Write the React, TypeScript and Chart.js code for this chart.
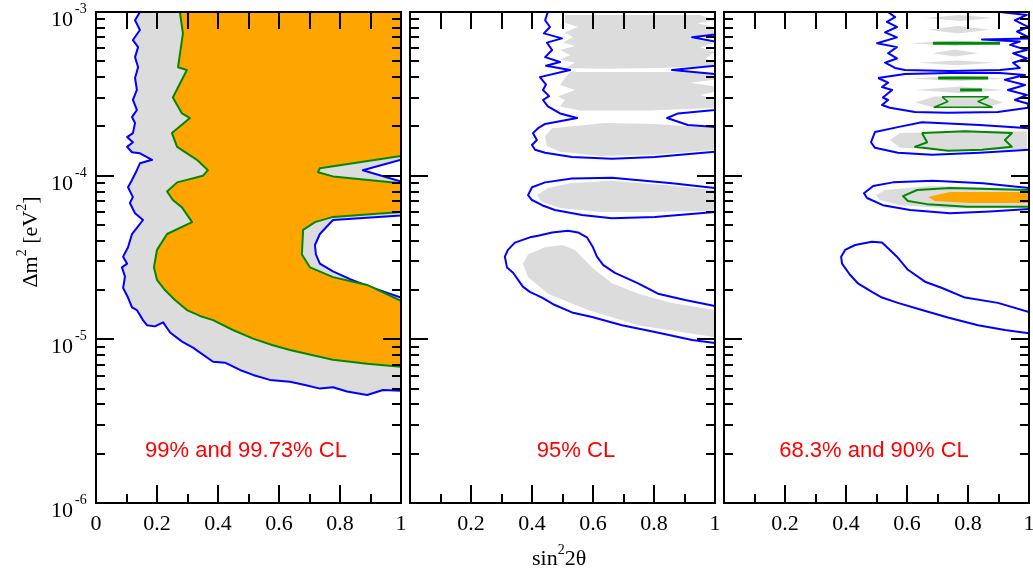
import { useEffect, useRef } from "react";
import { Chart, registerables } from "chart.js";

Chart.register(...registerables);

type P = [number, number];

const W = 1033;
const H = 573;

// ---- axes ----
const X_MAJOR = [0, 0.2, 0.4, 0.6, 0.8, 1];
const X_MINOR = [0.1, 0.3, 0.5, 0.7, 0.9];
const X_LABELS_FIRST = ["0", "0.2", "0.4", "0.6", "0.8", "1"];
const X_LABELS_REST = ["", "0.2", "0.4", "0.6", "0.8", "1"];
const Y_DECADES = [1e-6, 1e-5, 1e-4, 1e-3];
const Y_DECADE_EXP = ["-6", "-5", "-4", "-3"];
const Y_MINOR_MULT = [2, 3, 4, 5, 6, 7, 8, 9];
const NOTES = ["99% and 99.73% CL", "95% CL", "68.3% and 90% CL"];
const NOTE_X = [246, 576, 874];

// ---- panel 1: 99% (orange) and 99.73% (gray) ----
const P1_GRAY: P[] = [
  [0.144, 1e-3], [1, 1e-3], [1, 1.25e-4], [0.875, 1.08e-4], [1, 9.2e-5], [1, 5.7e-5],
  [0.777, 5.36e-5], [0.734, 4.4e-5], [0.718, 3.77e-5], [0.721, 3.3e-5], [0.734, 2.9e-5],
  [0.777, 2.6e-5], [0.833, 2.33e-5], [0.908, 2.06e-5], [1, 1.8e-5],
  [1, 4.85e-6], [0.941, 4.9e-6], [0.889, 4.57e-6], [0.823, 4.8e-6], [0.777, 5.1e-6],
  [0.734, 5.0e-6], [0.685, 5.26e-6], [0.636, 5.5e-6], [0.57, 5.65e-6], [0.515, 6.06e-6],
  [0.472, 6.5e-6], [0.423, 7.2e-6], [0.384, 7.3e-6], [0.341, 8.3e-6], [0.318, 8.9e-6],
  [0.285, 9.6e-6], [0.266, 1.02e-5], [0.243, 1.1e-5], [0.22, 1.27e-5], [0.193, 1.2e-5],
  [0.167, 1.22e-5], [0.154, 1.31e-5], [0.134, 1.51e-5], [0.118, 1.57e-5], [0.105, 1.8e-5],
  [0.089, 2.06e-5], [0.095, 2.42e-5], [0.085, 2.75e-5], [0.102, 2.9e-5], [0.089, 3.2e-5],
  [0.105, 3.65e-5], [0.118, 4.4e-5], [0.134, 4.8e-5], [0.154, 5.36e-5], [0.128, 5.9e-5],
  [0.111, 6.8e-5], [0.121, 7.4e-5], [0.105, 8.5e-5], [0.118, 9.4e-5], [0.134, 1.08e-4],
  [0.144, 1.19e-4], [0.184, 1.25e-4], [0.144, 1.37e-4], [0.118, 1.39e-4], [0.102, 1.5e-4],
  [0.121, 1.6e-4], [0.102, 1.72e-4], [0.121, 1.82e-4], [0.128, 2.1e-4], [0.118, 2.28e-4],
  [0.134, 2.52e-4], [0.121, 2.9e-4], [0.134, 3.34e-4], [0.128, 3.95e-4], [0.138, 4.6e-4],
  [0.128, 5.3e-4], [0.138, 6.1e-4], [0.121, 6.74e-4], [0.144, 7.76e-4], [0.128, 8.9e-4],
];
const P1_ORANGE: P[] = [
  [0.275, 1e-3], [1, 1e-3], [1, 1.32e-4], [0.734, 1.11e-4], [0.728, 1.05e-4], [0.777, 9.9e-5],
  [1, 9.0e-5], [1, 6.0e-5], [0.777, 5.6e-5], [0.718, 5.2e-5], [0.679, 4.66e-5], [0.675, 3.3e-5],
  [0.702, 2.75e-5], [0.777, 2.4e-5], [0.889, 2.15e-5], [1, 1.72e-5], [1, 6.8e-6],
  [0.889, 7.1e-6], [0.777, 7.5e-6], [0.711, 8.0e-6], [0.636, 8.6e-6], [0.58, 9.2e-6],
  [0.515, 1.01e-5], [0.449, 1.14e-5], [0.384, 1.31e-5], [0.341, 1.39e-5], [0.298, 1.51e-5],
  [0.259, 1.74e-5], [0.226, 2.0e-5], [0.2, 2.31e-5], [0.19, 2.75e-5], [0.2, 3.52e-5],
  [0.233, 4.4e-5], [0.315, 5.2e-5], [0.282, 6.4e-5], [0.252, 7.1e-5], [0.233, 8.0e-5],
  [0.266, 9.1e-5], [0.351, 1.0e-4], [0.367, 1.08e-4], [0.331, 1.25e-4], [0.266, 1.5e-4],
  [0.249, 1.82e-4], [0.308, 2.25e-4], [0.282, 2.4e-4], [0.252, 3.0e-4], [0.298, 4.42e-4],
  [0.269, 4.6e-4], [0.285, 7.4e-4],
];

// ---- panel 2: 95% ----
const P2_BANANA_LINE: P[] = [
  [1, 1.6e-5], [0.902, 1.74e-5], [0.813, 1.9e-5], [0.748, 2.2e-5], [0.672, 2.55e-5],
  [0.633, 2.85e-5], [0.613, 3.2e-5], [0.6, 3.65e-5], [0.58, 4.2e-5], [0.551, 4.5e-5],
  [0.518, 4.6e-5], [0.466, 4.5e-5], [0.42, 4.3e-5], [0.393, 4.2e-5], [0.344, 3.9e-5],
  [0.321, 3.52e-5], [0.311, 3.2e-5], [0.318, 2.75e-5], [0.338, 2.55e-5], [0.37, 2.1e-5],
  [0.393, 1.95e-5], [0.433, 1.8e-5], [0.475, 1.62e-5], [0.531, 1.46e-5], [0.597, 1.37e-5],
  [0.695, 1.22e-5], [0.803, 1.11e-5], [0.925, 9.9e-6], [1, 9.5e-6],
];
const P2_BANANA_GRAY: P[] = [
  [1, 1.51e-5], [0.859, 1.67e-5], [0.748, 1.9e-5], [0.662, 2.2e-5], [0.597, 2.75e-5],
  [0.541, 3.52e-5], [0.498, 3.77e-5], [0.443, 3.65e-5], [0.387, 3.3e-5], [0.37, 2.9e-5],
  [0.387, 2.4e-5], [0.452, 1.9e-5], [0.584, 1.51e-5], [0.748, 1.22e-5], [1, 1.03e-5],
];
const P2_MID_LINE: P[] = [
  [1, 8.4e-5], [0.859, 9.0e-5], [0.662, 9.7e-5], [0.531, 9.6e-5], [0.443, 9.1e-5],
  [0.4, 8.5e-5], [0.387, 7.6e-5], [0.4, 7.1e-5], [0.433, 6.6e-5], [0.475, 6.17e-5],
  [0.564, 5.75e-5], [0.662, 5.5e-5], [0.803, 5.6e-5], [1, 6.0e-5],
];
const P2_MID_GRAY: P[] = [
  [1, 8.17e-5], [0.836, 8.77e-5], [0.656, 9.3e-5], [0.525, 9.0e-5], [0.452, 8.4e-5],
  [0.416, 7.6e-5], [0.433, 6.9e-5], [0.492, 6.35e-5], [0.623, 6.0e-5], [0.787, 6.0e-5],
  [1, 6.1e-5],
];
const P2_UPPER_LINE: P[] = [
  [0.452, 1e-3], [0.443, 8.9e-4], [0.459, 8.1e-4], [0.439, 7.4e-4], [0.498, 6.9e-4],
  [0.449, 6.5e-4], [0.466, 5.86e-4], [0.443, 5.3e-4], [0.492, 4.95e-4], [0.446, 4.7e-4],
  [0.525, 4.42e-4], [0.426, 4.0e-4], [0.446, 3.6e-4], [0.436, 3.34e-4], [0.456, 3.06e-4],
  [0.436, 2.9e-4], [0.452, 2.65e-4], [0.492, 2.4e-4], [0.548, 2.25e-4], [0.443, 2.07e-4],
  [0.42, 1.95e-4], [0.403, 1.82e-4], [0.416, 1.65e-4], [0.4, 1.54e-4], [0.41, 1.44e-4],
  [0.443, 1.38e-4], [0.531, 1.3e-4], [0.662, 1.27e-4], [0.803, 1.3e-4], [1, 1.4e-4],
  [1, 1.98e-4], [0.911, 2.04e-4], [0.843, 2.25e-4], [0.879, 2.4e-4], [1, 2.52e-4],
  [1, 4.18e-4], [0.859, 4.42e-4], [1, 4.7e-4], [1, 6.6e-4], [0.925, 7.0e-4], [1, 7.3e-4],
  [1, 1e-3],
];
const P2_C_GRAY: P[] = [
  [1, 1.95e-4], [0.803, 2.07e-4], [0.639, 2.1e-4], [0.466, 1.95e-4], [0.443, 1.75e-4],
  [0.449, 1.52e-4], [0.492, 1.4e-4], [0.623, 1.32e-4], [0.803, 1.34e-4], [1, 1.44e-4],
];
const P2_D_GRAY: P[] = [
  [0.525, 4.3e-4], [0.885, 4.3e-4], [1, 4.18e-4], [1, 3.85e-4], [0.918, 3.7e-4], [1, 3.5e-4],
  [1, 3.26e-4], [0.951, 3.11e-4], [1, 2.95e-4], [1, 2.6e-4], [0.787, 2.5e-4], [0.557, 2.5e-4],
  [0.492, 2.65e-4], [0.508, 2.9e-4], [0.485, 3.05e-4], [0.541, 3.34e-4], [0.492, 3.58e-4],
  [0.508, 3.95e-4],
];
const P2_E_GRAY: P[] = [
  [0.508, 9.6e-4], [0.951, 9.6e-4], [1, 8.9e-4], [0.941, 8.55e-4], [1, 8.1e-4], [1, 7.2e-4],
  [0.918, 6.9e-4], [1, 6.5e-4], [0.951, 6.1e-4], [1, 5.7e-4], [0.97, 5.2e-4], [1, 4.95e-4],
  [1, 4.7e-4], [0.82, 4.55e-4], [0.623, 4.5e-4], [0.508, 4.55e-4], [0.541, 4.9e-4],
  [0.492, 5.1e-4], [0.525, 5.46e-4], [0.492, 5.86e-4], [0.541, 6.2e-4], [0.502, 6.5e-4],
  [0.534, 7.0e-4], [0.508, 7.5e-4], [0.551, 8.1e-4], [0.508, 8.6e-4],
];

// ---- panel 3: 68.3% and 90% ----
const P3_BANANA_LINE: P[] = [
  [1, 1.47e-5], [0.898, 1.67e-5], [0.79, 1.8e-5], [0.715, 2.06e-5], [0.659, 2.25e-5],
  [0.603, 2.66e-5], [0.567, 3.2e-5], [0.538, 3.6e-5], [0.518, 3.9e-5], [0.485, 3.95e-5],
  [0.43, 3.77e-5], [0.397, 3.52e-5], [0.384, 3.2e-5], [0.387, 2.9e-5], [0.413, 2.48e-5],
  [0.439, 2.2e-5], [0.485, 1.95e-5], [0.518, 1.8e-5], [0.57, 1.67e-5], [0.649, 1.51e-5],
  [0.734, 1.36e-5], [0.833, 1.22e-5], [0.921, 1.14e-5], [1, 1.09e-5],
];
const P3_B_LINE: P[] = [
  [1, 8.4e-5], [0.849, 9.0e-5], [0.685, 9.3e-5], [0.554, 9.1e-5], [0.489, 8.65e-5],
  [0.459, 7.8e-5], [0.469, 7.3e-5], [0.521, 6.6e-5], [0.61, 6.17e-5], [0.741, 5.9e-5],
  [0.872, 6.05e-5], [1, 6.25e-5],
];
const P3_B_GRAY: P[] = [
  [1, 8.17e-5], [0.849, 8.5e-5], [0.675, 8.65e-5], [0.528, 8.17e-5], [0.498, 7.6e-5],
  [0.511, 7.1e-5], [0.577, 6.6e-5], [0.741, 6.3e-5], [0.905, 6.35e-5], [1, 6.5e-5],
];
const P3_B_GREEN: P[] = [
  [1, 8.17e-5], [0.741, 8.4e-5], [0.633, 8.17e-5], [0.587, 7.5e-5], [0.603, 7.0e-5],
  [0.666, 6.7e-5], [0.797, 6.45e-5], [0.905, 6.45e-5], [1, 6.45e-5],
];
const P3_B_ORANGE: P[] = [
  [1, 7.95e-5], [0.741, 7.95e-5], [0.669, 7.4e-5], [0.692, 7.0e-5], [0.807, 6.8e-5], [1, 6.8e-5],
];
const P3_C_LINE: P[] = [
  [1, 1.95e-4], [0.839, 2.04e-4], [0.649, 2.12e-4], [0.57, 1.98e-4], [0.495, 1.85e-4],
  [0.482, 1.6e-4], [0.495, 1.48e-4], [0.57, 1.38e-4], [0.682, 1.34e-4], [0.839, 1.38e-4],
  [1, 1.44e-4],
];
const P3_C_GRAY: P[] = [
  [0.993, 1.87e-4], [0.839, 1.87e-4], [0.577, 1.82e-4], [0.544, 1.65e-4], [0.577, 1.48e-4],
  [0.774, 1.42e-4], [0.993, 1.45e-4],
];
const P3_C_GREEN: P[] = [
  [0.649, 1.82e-4], [0.79, 1.87e-4], [0.944, 1.82e-4], [0.921, 1.65e-4], [0.944, 1.5e-4],
  [0.846, 1.44e-4], [0.734, 1.42e-4], [0.626, 1.5e-4], [0.666, 1.6e-4],
];
const P3_UPPER_LINE: P[] = [
  [0.538, 1e-3], [0.561, 9.3e-4], [0.534, 8.7e-4], [0.567, 8.1e-4], [0.528, 7.5e-4],
  [0.567, 7.0e-4], [0.502, 6.45e-4], [0.567, 6.1e-4], [0.538, 5.6e-4], [0.567, 5.2e-4],
  [0.528, 4.9e-4], [0.561, 4.55e-4], [0.593, 4.42e-4], [0.741, 4.36e-4], [0.905, 4.42e-4],
  [0.97, 4.55e-4], [0.948, 4.9e-4], [0.993, 5.2e-4], [0.948, 5.6e-4], [0.993, 5.86e-4],
  [0.938, 6.3e-4], [0.97, 6.6e-4], [0.846, 6.8e-4], [1, 6.9e-4], [1, 7.0e-4],
  [0.961, 7.6e-4], [0.997, 8.1e-4], [0.954, 8.9e-4], [0.993, 9.6e-4], [0.905, 1e-3],
];
const P3_LOWER_LINE: P[] = [
  [0.505, 3.95e-4], [0.593, 4.18e-4], [0.741, 4.24e-4], [0.905, 4.24e-4], [0.987, 4.12e-4],
  [0.921, 3.85e-4], [0.987, 3.58e-4], [0.931, 3.34e-4], [0.993, 3.11e-4], [0.954, 2.9e-4],
  [0.997, 2.75e-4], [0.997, 2.6e-4], [0.898, 2.45e-4], [0.734, 2.42e-4], [0.626, 2.45e-4],
  [0.544, 2.6e-4], [0.518, 2.7e-4], [0.538, 2.9e-4], [0.521, 3.0e-4], [0.551, 3.34e-4],
  [0.518, 3.48e-4], [0.538, 3.7e-4],
];
const P3_STREAKS: P[][] = [
  [[0.659, 9.2e-4], [0.774, 9.6e-4], [0.882, 9.2e-4], [0.774, 8.8e-4]],
  [[0.669, 7.8e-4], [0.767, 8.2e-4], [0.872, 7.8e-4], [0.767, 7.4e-4]],
  [[0.61, 6.45e-4], [0.757, 6.7e-4], [0.905, 6.45e-4], [0.757, 6.2e-4]],
  [[0.682, 5.6e-4], [0.757, 5.9e-4], [0.833, 5.6e-4], [0.757, 5.35e-4]],
  [[0.636, 4.9e-4], [0.764, 5.05e-4], [0.889, 4.9e-4], [0.764, 4.72e-4]],
  [[0.616, 3.93e-4], [0.767, 4.08e-4], [0.921, 3.93e-4], [0.767, 3.78e-4]],
  [[0.626, 3.34e-4], [0.774, 3.5e-4], [0.921, 3.34e-4], [0.774, 3.2e-4]],
  [[0.626, 2.8e-4], [0.692, 3.05e-4], [0.856, 3.05e-4], [0.915, 2.8e-4], [0.856, 2.6e-4], [0.692, 2.6e-4]],
];
const P3_GREEN_BARS: P[][] = [
  [[0.685, 6.45e-4], [0.905, 6.45e-4]],
  [[0.702, 3.95e-4], [0.866, 3.95e-4]],
  [[0.774, 3.34e-4], [0.846, 3.34e-4]],
];
const P3_GREEN_HOURGLASS: P[] = [
  [0.715, 3.03e-4], [0.866, 3.03e-4], [0.833, 2.84e-4], [0.879, 2.62e-4], [0.689, 2.62e-4], [0.734, 2.84e-4],
];

// ---- styling ----
const GRAY = "#DCDCDC";
const ORANGE = "#FFA500";
const BLUE = "#0000FF";
const GREEN = "#008800";
const SERIF = '"Liberation Serif", "Times New Roman", serif';
const SANS = '"Liberation Sans", Arial, sans-serif';

const AREAS: [number, number, number, number][] = [
  [96, 12, 401, 503],
  [410, 12, 715, 503],
  [724, 12, 1029, 503],
];

function ds(pts: P[], fill: string | null, stroke: string | null, width = 2, closed = true) {
  const data = pts.map(([x, y]) => ({ x, y }));
  if (closed) data.push({ x: pts[0][0], y: pts[0][1] });
  return {
    data,
    fill: fill ? "shape" : false,
    backgroundColor: fill ?? "rgba(0,0,0,0)",
    borderColor: stroke ?? "rgba(0,0,0,0)",
    borderWidth: stroke ? width : 0,
    pointRadius: 0,
    tension: 0,
    borderJoinStyle: "round" as const,
    borderCapStyle: "butt" as const,
  };
}

function panelDatasets(i: number) {
  // listed bottom-first
  if (i === 0) {
    return [ds(P1_GRAY, GRAY, BLUE), ds(P1_ORANGE, ORANGE, GREEN)];
  }
  if (i === 1) {
    return [
      ds(P2_BANANA_GRAY, GRAY, null),
      ds(P2_MID_GRAY, GRAY, null),
      ds(P2_C_GRAY, GRAY, null),
      ds(P2_D_GRAY, GRAY, null),
      ds(P2_E_GRAY, GRAY, null),
      ds(P2_BANANA_LINE, null, BLUE, 2, false),
      ds(P2_MID_LINE, null, BLUE, 2, false),
      ds(P2_UPPER_LINE, null, BLUE, 2, true),
    ];
  }
  return [
    ...P3_STREAKS.map((s) => ds(s, GRAY, null)),
    ds(P3_C_GRAY, GRAY, null),
    ds(P3_B_GRAY, GRAY, null),
    ds(P3_B_ORANGE, ORANGE, null),
    ds(P3_UPPER_LINE, null, BLUE, 2, true),
    ds(P3_LOWER_LINE, null, BLUE, 2, true),
    ds(P3_C_LINE, null, BLUE, 2, false),
    ds(P3_B_LINE, null, BLUE, 2, false),
    ds(P3_BANANA_LINE, null, BLUE, 2, false),
    ds(P3_C_GREEN, null, GREEN, 2, true),
    ds(P3_B_GREEN, null, GREEN, 2, false),
    ...P3_GREEN_BARS.map((b) => ds(b, null, GREEN, 3, false)),
    ds(P3_GREEN_HOURGLASS, null, GREEN, 1.5, true),
  ];
}

type Part = { t: string; sup?: boolean };
function drawRich(ctx: CanvasRenderingContext2D, parts: Part[], x: number, y: number, align: "left" | "center", big: string, small: string, rise: number) {
  const widths = parts.map((p) => {
    ctx.font = p.sup ? small : big;
    return ctx.measureText(p.t).width;
  });
  const total = widths.reduce((a, b) => a + b, 0);
  let cx = align === "center" ? x - total / 2 : x;
  ctx.textAlign = "left";
  ctx.textBaseline = "alphabetic";
  parts.forEach((p, k) => {
    ctx.font = p.sup ? small : big;
    ctx.fillText(p.t, cx, p.sup ? y - rise : y);
    cx += widths[k];
  });
}

function makePlugin(i: number) {
  return {
    id: "frame" + i,
    afterDatasetsDraw(chart: any) {
      const { ctx, chartArea: a, scales } = chart;
      const xs = scales.x;
      const ys = scales.y;
      ctx.save();
      ctx.strokeStyle = "#000";
      ctx.lineWidth = 2;
      ctx.strokeRect(a.left, a.top, a.right - a.left, a.bottom - a.top);
      ctx.lineWidth = 2;
      ctx.beginPath();
      const xt = (v: number, lb: number, lt: number) => {
        const px = Math.round(xs.getPixelForValue(v));
        ctx.moveTo(px, a.bottom);
        ctx.lineTo(px, a.bottom - lb);
        ctx.moveTo(px, a.top);
        ctx.lineTo(px, a.top + lt);
      };
      X_MAJOR.forEach((v) => xt(v, 18, 17));
      X_MINOR.forEach((v) => xt(v, 9, 17));
      const yt = (v: number, len: number) => {
        const py = Math.round(ys.getPixelForValue(v));
        ctx.moveTo(a.left, py);
        ctx.lineTo(a.left + len, py);
        ctx.moveTo(a.right, py);
        ctx.lineTo(a.right - len, py);
      };
      Y_DECADES.forEach((d) => yt(d, 18));
      Y_DECADES.slice(0, 3).forEach((d) => Y_MINOR_MULT.forEach((m) => yt(d * m, 9)));
      ctx.stroke();

      ctx.fillStyle = "#000";
      const big = `22px ${SERIF}`;
      const small = `14px ${SERIF}`;
      // x tick labels
      const labels = i === 0 ? X_LABELS_FIRST : X_LABELS_REST;
      ctx.font = big;
      ctx.textAlign = "center";
      ctx.textBaseline = "alphabetic";
      X_MAJOR.forEach((v, k) => {
        if (!labels[k]) return;
        ctx.fillText(labels[k], xs.getPixelForValue(v), a.bottom + 27);
      });
      if (i === 0) {
        Y_DECADES.forEach((d, k) => {
          const py = ys.getPixelForValue(d);
          ctx.font = big;
          ctx.textAlign = "right";
          ctx.fillText("10", 73, py + 14);
          ctx.font = small;
          ctx.textAlign = "left";
          ctx.fillText(Y_DECADE_EXP[k], 75, py + 1);
        });
        ctx.save();
        ctx.translate(37, 242);
        ctx.rotate(-Math.PI / 2);
        drawRich(ctx, [{ t: "\u0394m" }, { t: "2", sup: true }, { t: " [eV" }, { t: "2", sup: true }, { t: "]" }], 0, 0, "center", big, small, 11);
        ctx.restore();
      }
      if (i === 1) {
        drawRich(ctx, [{ t: "sin" }, { t: "2", sup: true }, { t: "2\u03b8" }], 532, 565, "left", big, small, 11);
      }
      ctx.fillStyle = "#FF0000";
      ctx.font = `22px ${SANS}`;
      ctx.textAlign = "center";
      ctx.fillText(NOTES[i], NOTE_X[i], 457);
      ctx.restore();
    },
  };
}

function makeConfig(i: number): any {
  const [l, t, r, b] = AREAS[i];
  const sets = panelDatasets(i);
  const n = sets.length;
  return {
    type: "line",
    data: { datasets: sets.map((s, k) => ({ ...s, order: n - k })) },
    options: {
      responsive: false,
      animation: false,
      devicePixelRatio: 1,
      events: [],
      layout: { padding: { left: l, top: t, right: W - r, bottom: H - b } },
      scales: {
        x: { type: "linear", min: 0, max: 1, display: false },
        y: { type: "logarithmic", min: 1e-6, max: 1e-3, display: false },
      },
      plugins: { legend: { display: false }, tooltip: { enabled: false } },
    },
    plugins: [makePlugin(i)],
  };
}

export default function App() {
  const r0 = useRef<HTMLCanvasElement>(null);
  const r1 = useRef<HTMLCanvasElement>(null);
  const r2 = useRef<HTMLCanvasElement>(null);
  useEffect(() => {
    const refs = [r0, r1, r2];
    const charts = refs.map((r, i) => new Chart(r.current as HTMLCanvasElement, makeConfig(i)));
    return () => charts.forEach((c) => c.destroy());
  }, []);
  const style: any = { position: "absolute", left: 0, top: 0 };
  return (
    <div style={{ position: "absolute", left: 0, top: 0, width: W, height: H, background: "#fff" }}>
      <canvas ref={r0} width={W} height={H} style={style} />
      <canvas ref={r1} width={W} height={H} style={style} />
      <canvas ref={r2} width={W} height={H} style={style} />
    </div>
  );
}
